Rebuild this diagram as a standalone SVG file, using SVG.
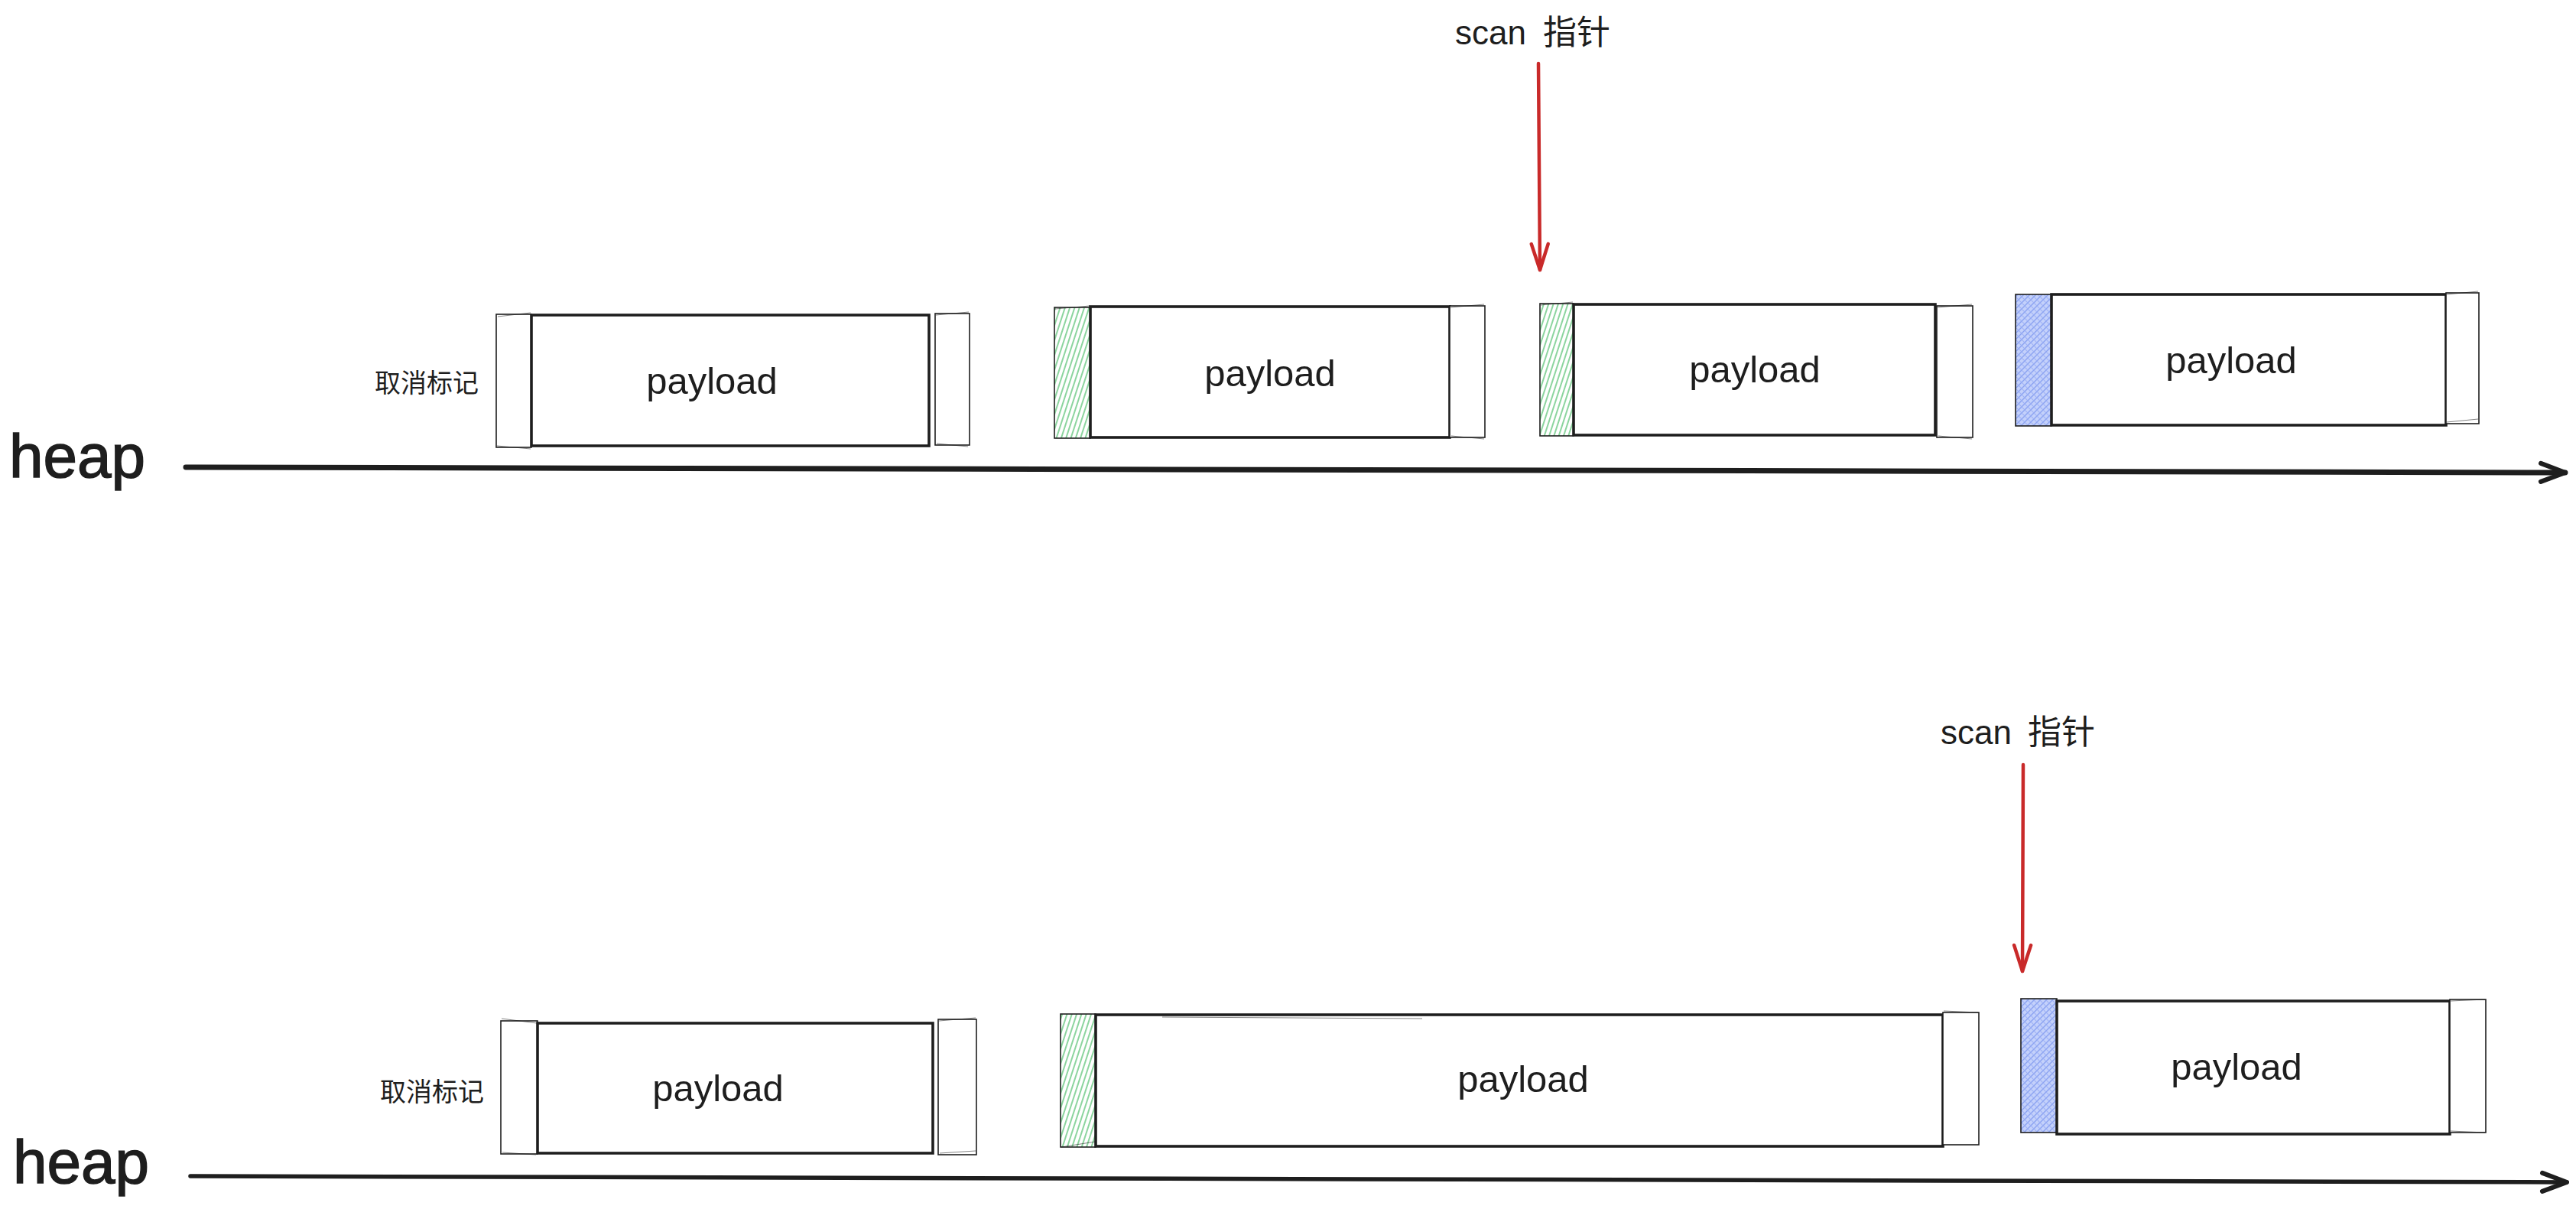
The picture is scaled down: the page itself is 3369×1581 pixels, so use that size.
<svg xmlns="http://www.w3.org/2000/svg" width="3369" height="1581" viewBox="0 0 3369 1581">
  <defs>
    <pattern id="hatchGreen" patternUnits="userSpaceOnUse" width="6" height="12" patternTransform="rotate(18)">
      <line x1="3" y1="0" x2="3" y2="12" stroke="#7fd094" stroke-width="1.8"/>
    </pattern>
    <pattern id="hatchBlue" patternUnits="userSpaceOnUse" width="8" height="8">
      <rect width="8" height="8" fill="#c4d1fb"/>
      <path d="M0 8 L8 0 M-2 2 L2 -2 M6 10 L10 6" stroke="#8aa2f2" stroke-width="1.4"/>
      <path d="M0 0 L8 8 M-2 6 L2 10 M6 -2 L10 2" stroke="#9db1f5" stroke-width="1.1"/>
    </pattern>
    <marker id="headRed" markerUnits="userSpaceOnUse" viewBox="-45 -20 50 40" refX="0" refY="0" markerWidth="50" markerHeight="40" orient="auto" overflow="visible">
      <path d="M -34 -11 L 0 0 L -34 11" fill="none" stroke="#c92a2a" stroke-width="4.5" stroke-linecap="round" stroke-linejoin="round"/>
    </marker>
    <marker id="headBlack" markerUnits="userSpaceOnUse" viewBox="-45 -20 50 40" refX="0" refY="0" markerWidth="50" markerHeight="40" orient="auto" overflow="visible">
      <path d="M -32 -12 L 0 0 L -32 12" fill="none" stroke="#1e1e1e" stroke-width="6" stroke-linecap="round" stroke-linejoin="round"/>
    </marker>
  </defs>
  <style>
    .hdr { fill: #ffffff; stroke: #1e1e1e; stroke-width: 1.6; }
    .hdr-g { fill: url(#hatchGreen); stroke: #1e1e1e; stroke-width: 1.6; }
    .hdr-b { fill: url(#hatchBlue); stroke: #1e1e1e; stroke-width: 1.6; }
    .pl { fill: #ffffff; stroke: #1e1e1e; stroke-width: 3.6; }
    .rough { fill: none; stroke: #1e1e1e; stroke-width: 1; opacity: 0.55; }
    .label { font-family: "Liberation Sans", "Noto Sans", sans-serif; font-size: 49px; fill: #1e1e1e; text-anchor: middle; }
    .cjk { font-family: "Noto Sans CJK SC", "Noto Sans", sans-serif; font-size: 34px; fill: #1e1e1e; }
    .heap { font-family: "Liberation Sans", "Noto Sans", sans-serif; font-size: 80px; fill: #1e1e1e; stroke: #1e1e1e; stroke-width: 1.5; }
    .scan { font-family: "Liberation Sans", "Noto Sans", sans-serif; font-size: 44px; fill: #1e1e1e; }
    .scancjk { font-family: "Noto Sans CJK SC", sans-serif; font-size: 44px; fill: #1e1e1e; }
    .axis { fill: none; stroke: #1e1e1e; stroke-linecap: round; marker-end: url(#headBlack); }
    .ptr { fill: none; stroke: #c92a2a; stroke-width: 4.5; stroke-linecap: round; marker-end: url(#headRed); }
  </style>

  <rect width="3369" height="1581" fill="#ffffff"/>

  <!-- Row 1 -->
  <g id="heap-label-1"><text class="heap" x="12" y="624">heap</text></g>
  <g id="scan-label-1">
    <text class="scan" x="1903" y="58">scan</text>
    <text class="scancjk" x="2018" y="58">指针</text>
  </g>

  <g id="block-a">
    <text class="cjk" x="490" y="513">取消标记</text>
    <rect class="hdr" x="649" y="411" width="46" height="174"/>
    <rect class="pl" x="695" y="412" width="520" height="171"/>
    <rect class="hdr" x="1223" y="410" width="45" height="172"/>
    <path class="rough" d="M651 414 L694 409 M650 583 L694 587 M1224 412 L1267 408 M1225 580 L1266 584"/>
    <text class="label" x="931" y="515">payload</text>
  </g>

  <g id="block-b">
    <rect class="hdr-g" x="1379" y="402" width="47" height="171"/>
    <rect class="pl" x="1426" y="401" width="470" height="171"/>
    <rect class="hdr" x="1896" y="400" width="46" height="172"/>
    <path class="rough" d="M1380 404 L1425 400 M1897 402 L1941 398 M1898 570 L1941 574"/>
    <text class="label" x="1661" y="505">payload</text>
  </g>

  <g id="block-c">
    <rect class="hdr-g" x="2014" y="397" width="44" height="173"/>
    <rect class="pl" x="2058" y="398" width="473" height="171"/>
    <rect class="hdr" x="2533" y="400" width="47" height="172"/>
    <path class="rough" d="M2015 399 L2057 395 M2534 402 L2579 398 M2535 570 L2579 574"/>
    <text class="label" x="2295" y="500">payload</text>
  </g>

  <g id="block-d">
    <rect class="hdr-b" x="2636" y="385" width="47" height="172"/>
    <rect class="pl" x="2683" y="385" width="516" height="171"/>
    <rect class="hdr" x="3199" y="383" width="43" height="171"/>
    <path class="rough" d="M3200 385 L3241 381 M3200 552 L3241 548"/>
    <text class="label" x="2918" y="488">payload</text>
  </g>

  <!-- Row 2 -->
  <g id="heap-label-2"><text class="heap" x="17" y="1547">heap</text></g>
  <g id="scan-label-2">
    <text class="scan" x="2538" y="973">scan</text>
    <text class="scancjk" x="2652" y="973">指针</text>
  </g>

  <g id="block-f">
    <text class="cjk" x="497" y="1440">取消标记</text>
    <rect class="hdr" x="655" y="1335" width="48" height="174"/>
    <rect class="pl" x="703" y="1338" width="517" height="170"/>
    <rect class="hdr" x="1227" y="1333" width="50" height="177"/>
    <path class="rough" d="M656 1332 L702 1338 M657 1507 L701 1510 M1228 1335 L1276 1331 M1229 1508 L1276 1505"/>
    <text class="label" x="939" y="1440">payload</text>
  </g>

  <g id="block-g">
    <rect class="hdr-g" x="1387" y="1326" width="46" height="174"/>
    <rect class="pl" x="1433" y="1327" width="1108" height="172"/>
    <rect class="hdr" x="2541" y="1324" width="47" height="173"/>
    <path class="rough" d="M1388 1500 L1432 1493 M1520 1330 L1860 1332 M2542 1322 L2587 1324"/>
    <text class="label" x="1992" y="1428">payload</text>
  </g>

  <g id="block-e">
    <rect class="hdr-b" x="2643" y="1306" width="47" height="175"/>
    <rect class="pl" x="2690" y="1309" width="514" height="174"/>
    <rect class="hdr" x="3204" y="1307" width="47" height="174"/>
    <path class="rough" d="M3205 1309 L3250 1307 M3205 1479 L3250 1481"/>
    <text class="label" x="2925" y="1412">payload</text>
  </g>

  <!-- Connectors -->
  <g id="connectors">
    <path class="axis" style="stroke-width:7" d="M243 611 L3355 618"/>
    <path class="axis" style="stroke-width:5.5" d="M249 1538 L3357 1546"/>
    <path class="ptr" d="M2012 83 L2014 353"/>
    <path class="ptr" d="M2646 1000 L2645 1270"/>
  </g>
</svg>
